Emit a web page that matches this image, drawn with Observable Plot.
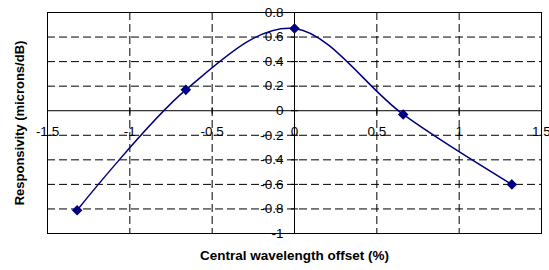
<!DOCTYPE html>
<html>
<head>
<meta charset="utf-8">
<script src="https://cdn.jsdelivr.net/npm/d3@7"></script>
<script src="https://cdn.jsdelivr.net/npm/@observablehq/plot@0.6"></script>
<style>
  html, body { margin: 0; padding: 0; background: #fff; }
  svg { display: block; }
</style>
</head>
<body>
<div id="chart"></div>
<script>
const offsets = [-1.32, -0.66, 0, 0.66, 1.32];
const responsivity = [-0.81, 0.17, 0.67, -0.03, -0.60];
const xTicks = [-1.5, -1, -0.5, 0, 0.5, 1, 1.5];
const xTickLabels = ["-1.5", "-1", "-0.5", "0", "0.5", "1", "1.5"];
const yTicks = [-1, -0.8, -0.6, -0.4, -0.2, 0, 0.2, 0.4, 0.6, 0.8];
const yTickLabels = ["-1", "-0.8", "-0.6", "-0.4", "-0.2", "0", "0.2", "0.4", "0.6", "0.8"];
const xTitle = "Central wavelength offset (%)";
const yTitle = "Responsivity (microns/dB)";

const data = offsets.map((x, i) => ({x, y: responsivity[i]}));
const xt = xTicks.map((v, i) => ({v, label: xTickLabels[i]}));
const yt = yTicks.map((v, i) => ({v, label: yTickLabels[i]}));

const vtick = {draw(ctx, size) { const r = Math.sqrt(size / Math.PI); ctx.moveTo(0, -r); ctx.lineTo(0, r); }};
const htick = {draw(ctx, size) { const r = Math.sqrt(size / Math.PI); ctx.moveTo(-r, 0); ctx.lineTo(r, 0); }};

const font = "Liberation Sans, Arial, sans-serif";

const chart = Plot.plot({
  width: 549,
  height: 270,
  marginLeft: 47,
  marginRight: 8,
  marginTop: 12,
  marginBottom: 37,
  style: {fontFamily: font, background: "#fff"},
  x: {domain: [-1.5, 1.5], axis: null},
  y: {domain: [-1, 0.8], axis: null},
  marks: [
    Plot.ruleX(xTicks.filter(v => v !== 0 && Math.abs(v) !== 1.5), {stroke: "#000", strokeDasharray: "8,4", strokeWidth: 1}),
    Plot.ruleY(yTicks.filter(v => v !== 0 && v !== -1 && v !== 0.8), {stroke: "#000", strokeDasharray: "8,4", strokeWidth: 1}),
    Plot.frame({stroke: "#000", strokeWidth: 1}),
    Plot.ruleX([0], {stroke: "#000", strokeWidth: 1}),
    Plot.ruleY([0], {stroke: "#000", strokeWidth: 1}),
    Plot.dot(xt, {x: "v", y: () => 0, symbol: vtick, r: 3.5, stroke: "#000", strokeWidth: 1}),
    Plot.dot(yt, {x: () => 0, y: "v", symbol: htick, r: 3.5, stroke: "#000", strokeWidth: 1}),
    Plot.text(xt, {x: "v", y: () => 0, text: "label", dy: 21, fontSize: 13.5, fill: "#000", letterSpacing: "0.8px"}),
    Plot.text(yt, {x: () => 0, y: "v", text: "label", textAnchor: "end", dx: -11, fontSize: 13.5, fill: "#000", letterSpacing: "0.8px"}),
    Plot.line(data, {x: "x", y: "y", curve: "cardinal", stroke: "#000080", strokeWidth: 1.5}),
    Plot.dot(data, {x: "x", y: "y", symbol: "diamond2", r: 3.8, fill: "#000080", stroke: "#000080"}),
    Plot.text([xTitle], {frameAnchor: "bottom", text: d => d, dy: 26, fontSize: 13.5, fontWeight: "bold", fill: "#000", letterSpacing: "1.2px"}),
    Plot.text([yTitle], {frameAnchor: "left", textAnchor: "middle", text: d => d, dx: -28, rotate: -90, fontSize: 13, fontWeight: "bold", fill: "#000", letterSpacing: "1.2px"})
  ]
});
document.getElementById("chart").appendChild(chart);
</script>
</body>
</html>
